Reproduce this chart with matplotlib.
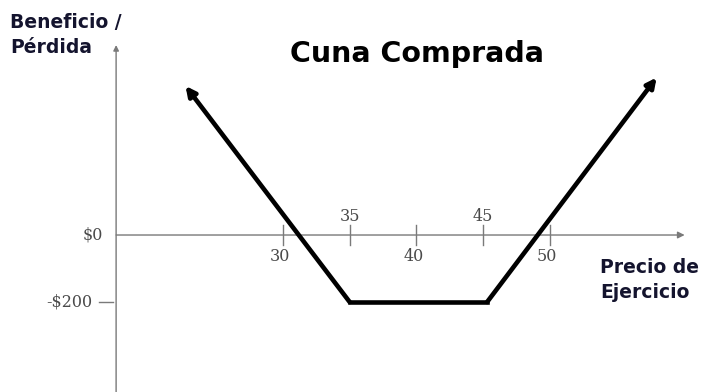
import matplotlib
matplotlib.use("Agg")
import matplotlib.pyplot as plt

# payoff of the bought wedge (strike price vs profit/loss)
precio = [22.7, 35, 45.3, 58.0]
beneficio = [445, -200, -200, 470]

x_ticks = [30, 35, 40, 45, 50]
x_labels_below = ['30', '', '40', '', '50']
x_labels_above = ['', '35', '', '45', '']
y_ticks = [0, -200]
y_labels = ['$0', '-$200']

titulo = 'Cuna Comprada'
y_titulo = ['Beneficio /', 'Pérdida']
x_titulo = ['Precio de', 'Ejercicio']

W, H = 710, 392
fig = plt.figure(figsize=(7.1, 3.92), dpi=100)
ax = fig.add_axes([0, 0, 1, 1])
ax.set_xlim(8.8, 62.0)
ax.set_ylim(-468.6, 701.5)
ax.axis('off')

axis_col = '#7a7a7a'
lab_col = '#4a4a4a'
x_origin = 17.5

# axes with arrow heads
ax.annotate('', xy=(60.1, 0), xytext=(x_origin, 0),
            arrowprops=dict(arrowstyle='-|>', color=axis_col, lw=1.0,
                            mutation_scale=10, shrinkA=0, shrinkB=0))
ax.annotate('', xy=(x_origin, 567), xytext=(x_origin, -468.6),
            arrowprops=dict(arrowstyle='-|>', color=axis_col, lw=1.0,
                            mutation_scale=8, shrinkA=0, shrinkB=0))

# x ticks crossing the axis
for xt, lb, la in zip(x_ticks, x_labels_below, x_labels_above):
    ax.plot([xt, xt], [-30, 30], color=axis_col, lw=1.0)
    if lb:
        ax.text(xt - 0.2, -40, lb, ha='center', va='top', fontsize=11.5,
                family='DejaVu Serif', color=lab_col)
    if la:
        ax.text(xt, 30, la, ha='center', va='bottom', fontsize=11.5,
                family='DejaVu Serif', color=lab_col)

# y tick labels
for yt, yl in zip(y_ticks, y_labels):
    if yt != 0:
        ax.plot([x_origin - 1.25, x_origin - 0.2], [yt, yt], color=axis_col, lw=1.0)
        ax.text(x_origin - 1.75, yt, yl, ha='right', va='center', fontsize=11.5,
                family='DejaVu Serif', color=lab_col)
    else:
        ax.text(x_origin - 1.0, yt, yl, ha='right', va='center', fontsize=11.5,
                family='DejaVu Serif', color=lab_col)

# payoff line with arrows at both ends
ax.plot(precio[1:3], beneficio[1:3], color='black', lw=3.3, solid_joinstyle='miter')
ax.annotate('', xy=(precio[0], beneficio[0]), xytext=(precio[1], beneficio[1]),
            arrowprops=dict(arrowstyle='-|>', color='black', lw=3.3,
                            mutation_scale=14, shrinkA=0, shrinkB=0))
ax.annotate('', xy=(precio[3], beneficio[3]), xytext=(precio[2], beneficio[2]),
            arrowprops=dict(arrowstyle='-|>', color='black', lw=3.3,
                            mutation_scale=14, shrinkA=0, shrinkB=0))

# titles
fig.text(417 / W, 1 - 62 / H, titulo, ha='center', va='baseline',
         fontsize=20.5, fontweight='bold', family='DejaVu Sans', color='black')
for i, line in enumerate(y_titulo):
    fig.text(10 / W, 1 - (28 + 25 * i) / H, line, ha='left', va='baseline',
             fontsize=13.5, fontweight='bold', family='DejaVu Sans', color='#14142e')
for i, line in enumerate(x_titulo):
    fig.text(600 / W, 1 - (273 + 25 * i) / H, line, ha='left', va='baseline',
             fontsize=13.5, fontweight='bold', family='DejaVu Sans', color='#14142e')

fig.savefig('out.png', dpi=100)
